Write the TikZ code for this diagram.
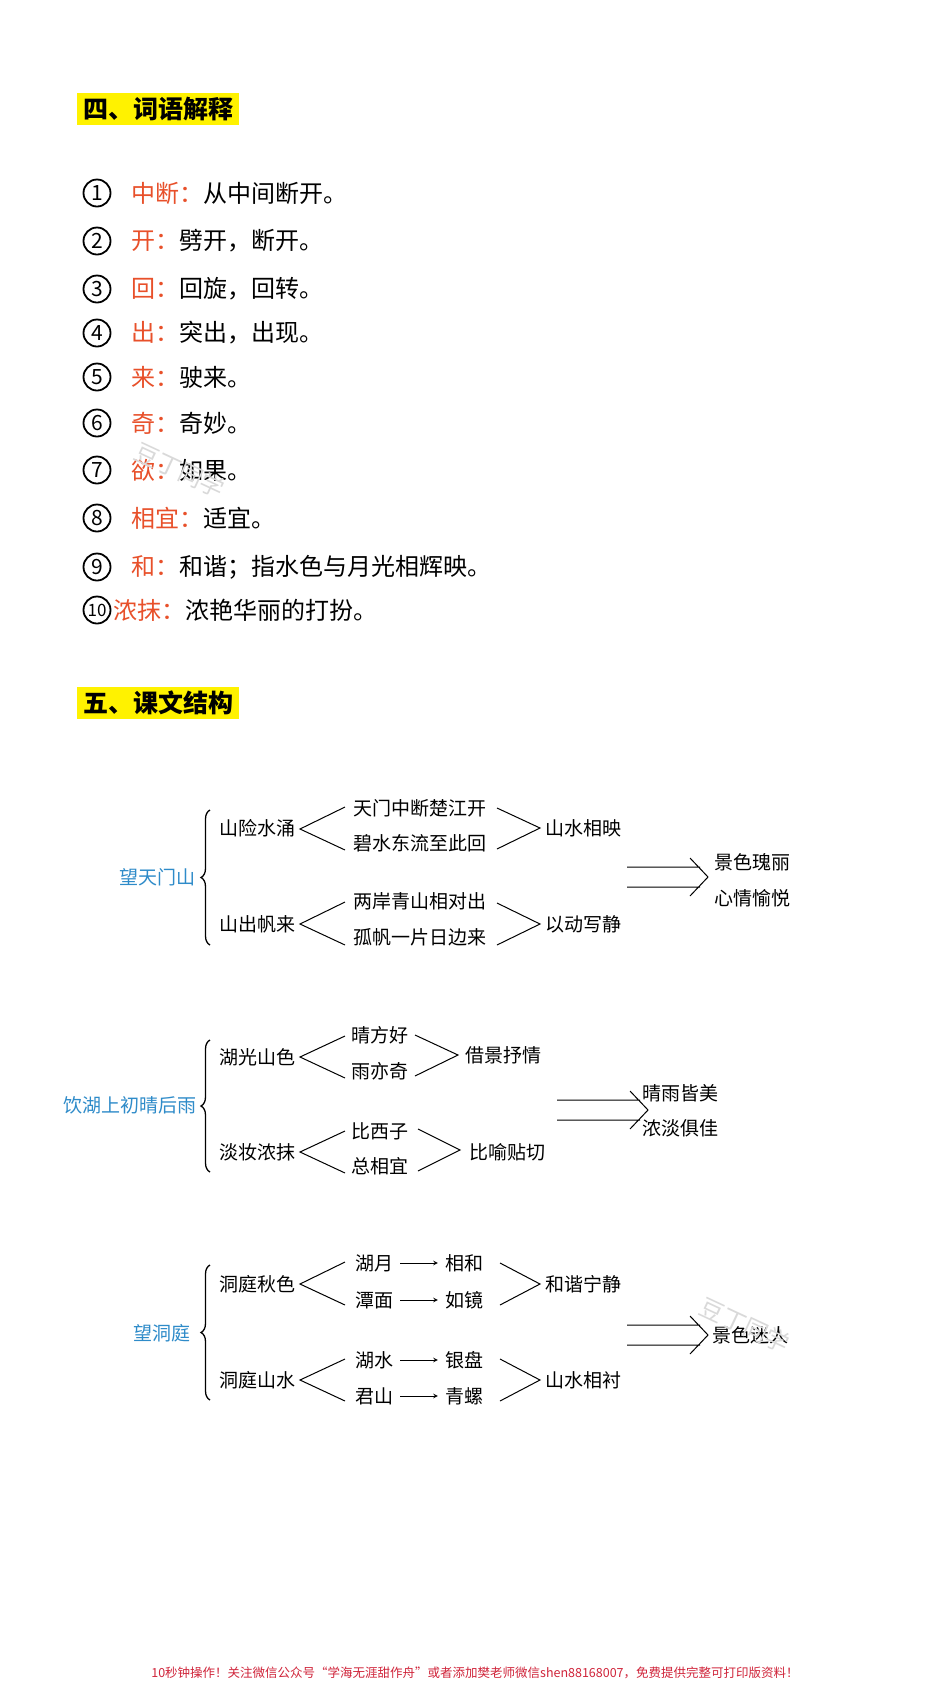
\documentclass[tikz,border=0pt]{standalone}
\usepackage{fontspec}
\setmainfont{Noto Sans CJK SC}
\usetikzlibrary{decorations.pathreplacing}
\definecolor{hl}{HTML}{FFF200}
\definecolor{term}{HTML}{E8502A}
\definecolor{ttl}{HTML}{2E8BC9}
\definecolor{foot}{HTML}{D0243A}
\tikzset{
 head/.style={fill=hl,inner xsep=6pt,inner ysep=4pt,font=\fontsize{25}{28}\selectfont\bfseries,anchor=west},
 item/.style={anchor=west,font=\fontsize{24}{28}\selectfont,inner sep=0pt},
 num/.style={draw,circle,line width=1.8pt,minimum size=27pt,inner sep=0pt,font=\fontsize{21}{22}\selectfont},
 st/.style={font=\fontsize{19}{22}\selectfont,inner sep=1pt},
 ln/.style={line width=1pt},
 br/.style={decorate,decoration={brace,amplitude=9pt,mirror},line width=1.3pt},
 wm/.style={text=gray!30,font=\fontsize{24}{26}\selectfont,rotate=-25}
}
\begin{document}
\begin{tikzpicture}[x=1pt,y=-1pt]
\useasboundingbox[fill=white] (0,0) rectangle (950,1690);
\node[head] (h1) at (77,109) {四、词语解释};
\foreach \n/\y/\t/\d [count=\i] in {
 ①/193/中断：/从中间断开。, ②/241/开：/劈开，断开。, ③/289/回：/回旋，回转。,
 ④/333/出：/突出，出现。, ⑤/377/来：/驶来。, ⑥/423/奇：/奇妙。, ⑦/470/欲：/如果。,
 ⑧/518/相宜：/适宜。, ⑨/567/和：/和谐；指水色与月光相辉映。}{
 \node[num] (n\i) at (97,\y) {\i};
 \node[item] (t\i) at (131,\y) {\textcolor{term}{\t}\d};
}
\node[num] (n10) at (97,610) {\fontsize{17}{18}\selectfont 10};
\node[item] (t10) at (113,610) {\textcolor{term}{浓抹：}浓艳华丽的打扮。};
\node[wm] (w1) at (180,470) {豆丁同学};
\node[head] (h2) at (77,703) {五、课文结构};
% section 1
\node[st,text=ttl] (a0) at (157,877) {望天门山};
\draw[br] (210,810) -- (210,945);
\node[st] (a1) at (257,828) {山险水涌};
\node[st] (a2) at (257,924) {山出帆来};
\node[st] (a11) at (420,808) {天门中断楚江开};
\node[st] (a12) at (420,843) {碧水东流至此回};
\node[st] (a21) at (420,901) {两岸青山相对出};
\node[st] (a22) at (420,937) {孤帆一片日边来};
\node[st] (a13) at (583,828) {山水相映};
\node[st] (a23) at (583,924) {以动写静};
\draw[ln] (345,807) -- (300,829) -- (345,850);
\draw[ln] (497,808) -- (540,828) -- (497,849);
\draw[ln] (345,902) -- (300,924) -- (345,945);
\draw[ln] (497,903) -- (540,924) -- (497,945);
\node[st] (a3) at (752,862) {景色瑰丽};
\node[st] (a4) at (752,898) {心情愉悦};
\draw[ln] (627,867) -- (700,867) (627,887) -- (700,887) (690,858) -- (708,877) -- (690,896);
% section 2
\node[st,text=ttl] (b0) at (130,1105) {饮湖上初晴后雨};
\draw[br] (210,1040) -- (210,1172);
\node[st] (b1) at (257,1057) {湖光山色};
\node[st] (b2) at (257,1152) {淡妆浓抹};
\node[st] (b11) at (380,1035) {晴方好};
\node[st] (b12) at (380,1071) {雨亦奇};
\node[st] (b21) at (380,1131) {比西子};
\node[st] (b22) at (380,1166) {总相宜};
\node[st] (b13) at (503,1055) {借景抒情};
\node[st] (b23) at (507,1152) {比喻贴切};
\draw[ln] (345,1036) -- (300,1057) -- (345,1078);
\draw[ln] (415,1035) -- (458,1055) -- (415,1076);
\draw[ln] (345,1131) -- (300,1152) -- (345,1173);
\draw[ln] (418,1129) -- (460,1150) -- (418,1171);
\node[st] (b3) at (680,1093) {晴雨皆美};
\node[st] (b4) at (680,1128) {浓淡俱佳};
\draw[ln] (557,1100) -- (640,1100) (557,1120) -- (640,1120) (630,1091) -- (648,1110) -- (630,1129);
% section 3
\node[st,text=ttl] (c0) at (162,1333) {望洞庭};
\draw[br] (210,1265) -- (210,1400);
\node[st] (c1) at (257,1284) {洞庭秋色};
\node[st] (c2) at (257,1380) {洞庭山水};
\node[st] (c11) at (374,1263) {湖月};
\node[st] (c12) at (374,1300) {潭面};
\node[st] (c21) at (374,1360) {湖水};
\node[st] (c22) at (374,1396) {君山};
\node[st] (c11r) at (464,1263) {相和};
\node[st] (c12r) at (464,1300) {如镜};
\node[st] (c21r) at (464,1360) {银盘};
\node[st] (c22r) at (464,1396) {青螺};
\foreach \p in {c11,c12,c21,c22}{\draw[ln,-stealth] (\p.east) ++(6,0) -- ([xshift=-6pt]\p r.west);}
\node[st] (c13) at (583,1284) {和谐宁静};
\node[st] (c23) at (583,1380) {山水相衬};
\draw[ln] (345,1262) -- (300,1284) -- (345,1305);
\draw[ln] (500,1263) -- (540,1284) -- (500,1305);
\draw[ln] (345,1359) -- (300,1380) -- (345,1401);
\draw[ln] (500,1359) -- (540,1380) -- (500,1401);
\node[st] (c3) at (750,1335) {景色迷人};
\draw[ln] (627,1325) -- (700,1325) (627,1345) -- (700,1345) (690,1316) -- (708,1335) -- (690,1354);
\node[wm] (w2) at (745,1325) {豆丁同学};
\node[text=foot,font=\fontsize{12.5}{14}\selectfont] (f) at (475,1673) {10秒钟操作！关注微信公众号“学海无涯甜作舟”或者添加樊老师微信shen88168007，免费提供完整可打印版资料！};
\end{tikzpicture}
\end{document}
